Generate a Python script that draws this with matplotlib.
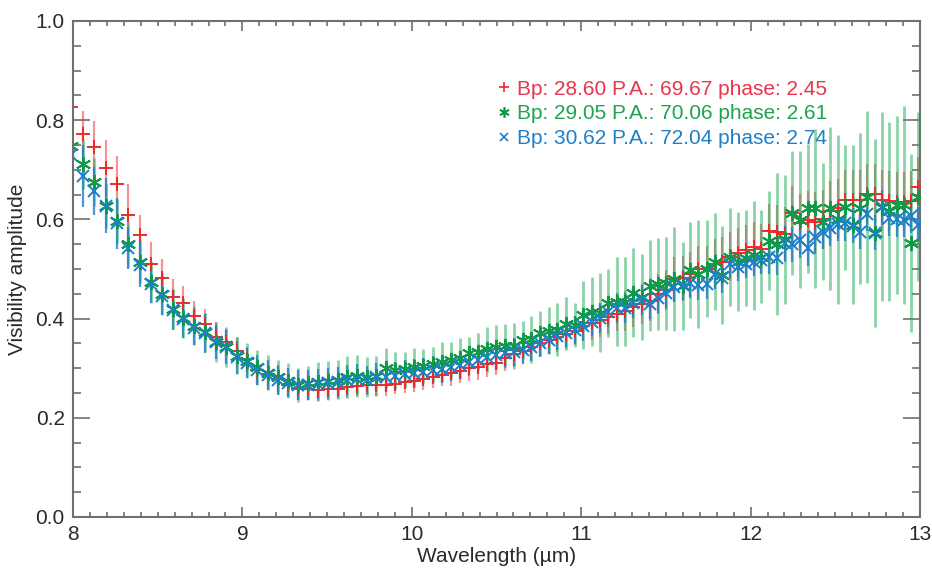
import matplotlib
matplotlib.use("Agg")
import matplotlib.pyplot as plt
from matplotlib.ticker import MultipleLocator, FormatStrFormatter

# Wavelength grid (micron)
wavelength = [
    7.989, 8.057, 8.126, 8.193, 8.260, 8.327, 8.393, 8.459, 8.524, 8.588,
    8.652, 8.716, 8.779, 8.842, 8.904, 8.966, 9.027, 9.088, 9.149, 9.209,
    9.269, 9.328, 9.387, 9.446, 9.504, 9.562, 9.619, 9.677, 9.734, 9.790,
    9.846, 9.902, 9.958, 10.013, 10.068, 10.123, 10.177, 10.231, 10.285, 10.339,
    10.392, 10.445, 10.498, 10.550, 10.603, 10.655, 10.706, 10.758, 10.809, 10.860,
    10.911, 10.961, 11.011, 11.061, 11.111, 11.161, 11.210, 11.259, 11.308, 11.357,
    11.406, 11.454, 11.502, 11.550, 11.598, 11.645, 11.692, 11.740, 11.787, 11.833,
    11.880, 11.926, 11.972, 12.019, 12.064, 12.110, 12.156, 12.201, 12.246, 12.291,
    12.336, 12.381, 12.425, 12.470, 12.514, 12.558, 12.602, 12.645, 12.689, 12.733,
    12.776, 12.819, 12.862, 12.905, 12.948, 12.990,
]

# Bp 28.60 (red +)
vis_red = [
    0.827, 0.773, 0.745, 0.704, 0.672, 0.609, 0.569, 0.510, 0.481, 0.444,
    0.431, 0.406, 0.390, 0.363, 0.352, 0.335, 0.318, 0.296, 0.288, 0.278,
    0.266, 0.258, 0.258, 0.256, 0.258, 0.259, 0.262, 0.265, 0.267, 0.266,
    0.266, 0.269, 0.273, 0.275, 0.278, 0.282, 0.286, 0.290, 0.295, 0.300,
    0.302, 0.308, 0.311, 0.320, 0.328, 0.335, 0.342, 0.350, 0.357, 0.362,
    0.369, 0.376, 0.385, 0.392, 0.397, 0.403, 0.410, 0.416, 0.424, 0.429,
    0.435, 0.450, 0.458, 0.479, 0.481, 0.490, 0.501, 0.501, 0.511, 0.515,
    0.525, 0.533, 0.538, 0.544, 0.541, 0.577, 0.575, 0.570, 0.612, 0.592,
    0.598, 0.595, 0.600, 0.617, 0.622, 0.640, 0.640, 0.640, 0.652, 0.652,
    0.640, 0.638, 0.636, 0.636, 0.638, 0.665,
]
err_red = [
    0.046, 0.046, 0.054, 0.057, 0.056, 0.062, 0.040, 0.045, 0.040, 0.036,
    0.035, 0.030, 0.030, 0.030, 0.028, 0.028, 0.025, 0.025, 0.025, 0.025,
    0.022, 0.022, 0.022, 0.022, 0.022, 0.022, 0.022, 0.022, 0.022, 0.022,
    0.022, 0.022, 0.022, 0.022, 0.022, 0.022, 0.022, 0.025, 0.025, 0.025,
    0.025, 0.025, 0.025, 0.025, 0.025, 0.025, 0.028, 0.028, 0.028, 0.030,
    0.030, 0.030, 0.030, 0.035, 0.035, 0.035, 0.035, 0.040, 0.040, 0.040,
    0.040, 0.040, 0.040, 0.045, 0.045, 0.045, 0.045, 0.045, 0.050, 0.050,
    0.050, 0.050, 0.050, 0.050, 0.050, 0.055, 0.055, 0.055, 0.055, 0.060,
    0.060, 0.060, 0.060, 0.060, 0.060, 0.060, 0.060, 0.060, 0.060, 0.060,
    0.060, 0.060, 0.060, 0.060, 0.060, 0.060,
]

# Bp 29.05 (green asterisk)
vis_green = [
    0.747, 0.712, 0.675, 0.628, 0.597, 0.550, 0.515, 0.474, 0.449, 0.419,
    0.401, 0.386, 0.372, 0.353, 0.343, 0.325, 0.315, 0.302, 0.291, 0.282,
    0.275, 0.266, 0.270, 0.273, 0.275, 0.277, 0.282, 0.284, 0.282, 0.284,
    0.300, 0.296, 0.298, 0.302, 0.304, 0.308, 0.313, 0.317, 0.320, 0.330,
    0.333, 0.338, 0.343, 0.345, 0.345, 0.357, 0.358, 0.370, 0.376, 0.378,
    0.390, 0.387, 0.407, 0.414, 0.412, 0.431, 0.434, 0.434, 0.452, 0.444,
    0.466, 0.470, 0.471, 0.479, 0.466, 0.498, 0.490, 0.501, 0.515, 0.488,
    0.524, 0.515, 0.522, 0.528, 0.525, 0.557, 0.550, 0.560, 0.612, 0.599,
    0.622, 0.622, 0.595, 0.622, 0.600, 0.624, 0.589, 0.622, 0.645, 0.573,
    0.626, 0.616, 0.629, 0.629, 0.552, 0.646,
]
err_green = [
    0.050, 0.050, 0.048, 0.046, 0.045, 0.045, 0.044, 0.042, 0.042, 0.040,
    0.040, 0.040, 0.040, 0.040, 0.040, 0.037, 0.035, 0.035, 0.035, 0.035,
    0.035, 0.035, 0.035, 0.040, 0.040, 0.040, 0.042, 0.043, 0.040, 0.041,
    0.040, 0.037, 0.035, 0.039, 0.034, 0.035, 0.040, 0.036, 0.041, 0.033,
    0.037, 0.046, 0.044, 0.044, 0.046, 0.039, 0.047, 0.046, 0.048, 0.053,
    0.054, 0.045, 0.069, 0.069, 0.079, 0.068, 0.090, 0.090, 0.090, 0.087,
    0.092, 0.093, 0.093, 0.105, 0.088, 0.097, 0.109, 0.098, 0.097, 0.099,
    0.098, 0.100, 0.097, 0.110, 0.094, 0.100, 0.143, 0.130, 0.125, 0.138,
    0.131, 0.160, 0.118, 0.165, 0.170, 0.126, 0.160, 0.152, 0.174, 0.190,
    0.190, 0.180, 0.180, 0.200, 0.180, 0.170,
]

# Bp 30.62 (blue x)
vis_blue = [
    0.730, 0.688, 0.657, 0.628, 0.592, 0.543, 0.509, 0.469, 0.446, 0.417,
    0.399, 0.382, 0.370, 0.353, 0.343, 0.322, 0.311, 0.296, 0.286, 0.276,
    0.271, 0.266, 0.266, 0.268, 0.270, 0.272, 0.276, 0.278, 0.276, 0.282,
    0.282, 0.284, 0.288, 0.290, 0.293, 0.296, 0.298, 0.302, 0.306, 0.313,
    0.317, 0.323, 0.327, 0.330, 0.333, 0.337, 0.343, 0.350, 0.357, 0.364,
    0.370, 0.377, 0.385, 0.394, 0.401, 0.414, 0.421, 0.421, 0.431, 0.437,
    0.429, 0.441, 0.451, 0.464, 0.468, 0.471, 0.468, 0.470, 0.490, 0.481,
    0.511, 0.505, 0.511, 0.515, 0.519, 0.525, 0.522, 0.552, 0.550, 0.558,
    0.542, 0.565, 0.575, 0.582, 0.591, 0.592, 0.587, 0.575, 0.611, 0.573,
    0.624, 0.602, 0.600, 0.599, 0.607, 0.589,
]
err_blue = [
    0.062, 0.062, 0.048, 0.055, 0.052, 0.042, 0.045, 0.038, 0.039, 0.040,
    0.039, 0.035, 0.039, 0.035, 0.035, 0.033, 0.030, 0.030, 0.030, 0.030,
    0.030, 0.030, 0.030, 0.030, 0.030, 0.030, 0.030, 0.030, 0.028, 0.028,
    0.028, 0.028, 0.028, 0.028, 0.028, 0.028, 0.028, 0.028, 0.028, 0.028,
    0.028, 0.028, 0.028, 0.028, 0.028, 0.028, 0.028, 0.028, 0.028, 0.028,
    0.028, 0.028, 0.030, 0.030, 0.030, 0.030, 0.030, 0.030, 0.030, 0.030,
    0.030, 0.030, 0.030, 0.030, 0.030, 0.030, 0.030, 0.030, 0.030, 0.030,
    0.030, 0.030, 0.030, 0.030, 0.030, 0.035, 0.035, 0.035, 0.035, 0.035,
    0.035, 0.035, 0.035, 0.035, 0.035, 0.035, 0.035, 0.035, 0.035, 0.035,
    0.035, 0.035, 0.035, 0.035, 0.035, 0.035,
]

labels = [
    "Bp: 28.60 P.A.: 69.67 phase: 2.45",
    "Bp: 29.05 P.A.: 70.06 phase: 2.61",
    "Bp: 30.62 P.A.: 72.04 phase: 2.74",
]

red = "#ee2a2a"
green = "#109a48"
blue = "#1a7fcc"
asterisk = (6, 2, 0)

plt.rcParams["font.family"] = ["Liberation Sans", "DejaVu Sans"]
fs = 15

fig = plt.figure(figsize=(9.32, 5.69), dpi=100)
ax = fig.add_axes([73 / 932, 1 - 517 / 569, 847 / 932, 496 / 569])

# error bars first, markers on top
ax.errorbar(wavelength, vis_red, yerr=err_red, fmt="none", ecolor=red,
            elinewidth=1.6, alpha=0.5, zorder=2)
ax.errorbar(wavelength, vis_green, yerr=err_green, fmt="none", ecolor="#1aa850",
            elinewidth=2.0, alpha=0.5, zorder=2)
ax.errorbar(wavelength, vis_blue, yerr=err_blue, fmt="none", ecolor=blue,
            elinewidth=1.6, alpha=0.8, zorder=2)

ax.plot(wavelength, vis_red, ls="none", marker="+", ms=10, mew=1.4,
        color=red, zorder=3)
ax.plot(wavelength, vis_green, ls="none", marker=asterisk, ms=11, mew=1.4,
        color=green, zorder=3)
ax.plot(wavelength, vis_blue, ls="none", marker="x", ms=9, mew=1.4,
        color=blue, zorder=4)

ax.set_xlim(8, 13)
ax.set_ylim(0, 1)
ax.xaxis.set_major_locator(MultipleLocator(1))
ax.xaxis.set_minor_locator(MultipleLocator(0.1))
ax.yaxis.set_major_locator(MultipleLocator(0.2))
ax.yaxis.set_minor_locator(MultipleLocator(0.05))
ax.yaxis.set_major_formatter(FormatStrFormatter("%.1f"))

frame = "#707070"
for s in ax.spines.values():
    s.set_color(frame)
    s.set_linewidth(1.5)
ax.tick_params(which="both", direction="in", top=True, right=True,
               color=frame, width=1.2, labelcolor="#2a2a2a", labelsize=fs)
ax.tick_params(axis="x", which="major", length=7, pad=6)
ax.tick_params(axis="x", which="minor", length=3.5)
ax.tick_params(axis="y", which="major", length=12, pad=6)
ax.tick_params(axis="y", which="minor", length=6)

ax.set_xlabel("Wavelength (µm)", color="#2a2a2a", fontsize=fs, labelpad=2)
ax.set_ylabel("Visibility amplitude", color="#2a2a2a", fontsize=fs, labelpad=6)

# legend: markers only, text in series colour
h_red, = ax.plot([], [], ls="none", marker="+", ms=7, mew=1.2, color=red)
h_green, = ax.plot([], [], ls="none", marker=asterisk, ms=7.5, mew=1.2, color=green)
h_blue, = ax.plot([], [], ls="none", marker="x", ms=6, mew=1.2, color=blue)
leg = ax.legend([h_red, h_green, h_blue], labels, loc="upper left",
                bbox_to_anchor=(0.503, 0.882), frameon=False, fontsize=fs,
                handlelength=0.5, handletextpad=0.35, labelspacing=0.28,
                borderpad=0, borderaxespad=0)
for t, c in zip(leg.get_texts(), ["#e8344c", "#1ea34e", "#1f80c8"]):
    t.set_color(c)

fig.savefig("out.png", dpi=100)
